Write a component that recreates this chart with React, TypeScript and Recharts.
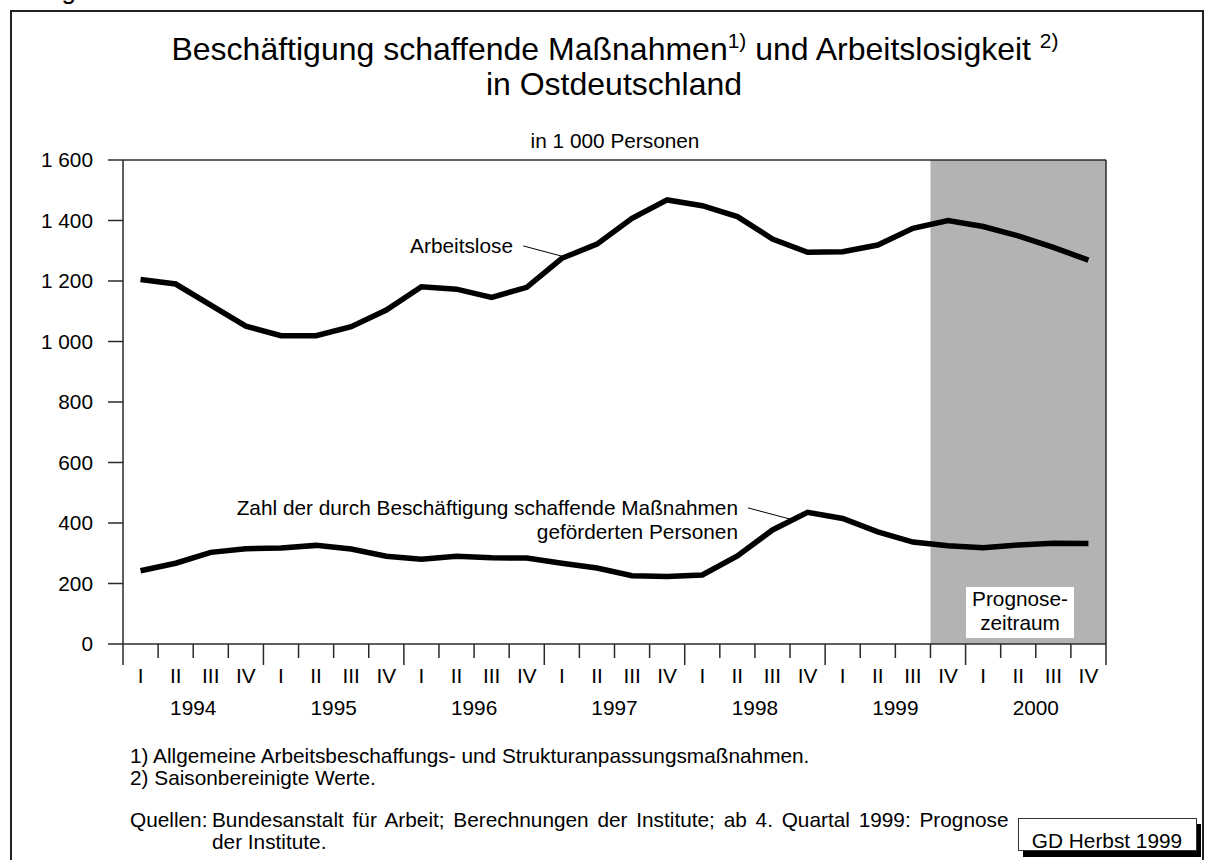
import { LineChart, Line, XAxis, YAxis, ReferenceArea, ReferenceLine } from 'recharts'

const quarterLabels = ['I', 'II', 'III', 'IV']
const years = ['1994', '1995', '1996', '1997', '1998', '1999', '2000']

// Arbeitslose (saisonbereinigt), Tsd. Personen, 1994 I - 2000 IV
const arbeitslose = [
  1205, 1190, 1120, 1051, 1019, 1019, 1049, 1104, 1181, 1173, 1146, 1179, 1275, 1322,
  1407, 1468, 1449, 1413, 1339, 1295, 1297, 1319, 1374, 1400, 1380, 1349, 1311, 1269,
]

// durch ABM/SAM geförderte Personen, Tsd.
const massnahmen = [
  242, 267, 303, 315, 317, 326, 314, 290, 280, 290, 285, 284, 267, 251,
  226, 223, 228, 291, 377, 435, 415, 371, 337, 325, 318, 327, 333, 332,
]

const yTicks = [0, 200, 400, 600, 800, 1000, 1200, 1400, 1600]

// first forecast quarter (1999 IV) index
const forecastStart = 23

const data = arbeitslose.map((v, i) => ({ i, arbeitslose: v, massnahmen: massnahmen[i] }))

// quarter boundaries + quarter centres
const xTicks: number[] = []
for (let k = 0; k < arbeitslose.length; k++) xTicks.push(k - 0.5, k)
xTicks.push(arbeitslose.length - 0.5)

// leader lines of the in-chart labels (data coordinates)
const leaderArbeitslose = [{ x: 10.9, y: 1316 }, { x: 12.1, y: 1279 }]
const leaderMassnahmen = [{ x: 17.3, y: 450 }, { x: 18.5, y: 413 }]

const FONT = '"Liberation Sans", Arial, Helvetica, sans-serif'
const FS = 20.8
const AXIS = '#2a2a2a'

const fmt = (v: number) =>
  v >= 1000 ? `${Math.floor(v / 1000)} ${String(v % 1000).padStart(3, '0')}` : String(v)

const LeftTick = ({ x, y, payload }: any) => (
  <text x={x - 15} y={y} dy="0.36em" textAnchor="end" fontSize={FS} fontFamily={FONT} fill="#000">
    {fmt(payload.value)}
  </text>
)

const RightTick = ({ x, y, payload }: any) => (
  <text x={x + 67} y={y} dy="0.36em" textAnchor="end" fontSize={FS} fontFamily={FONT} fill="#000">
    {fmt(payload.value)}
  </text>
)

const QuarterTick = ({ x, y, payload }: any) => {
  const v: number = payload.value
  if (Number.isInteger(v)) {
    return (
      <text x={x} y={y + 39} textAnchor="middle" fontSize={FS} fontFamily={FONT} fill="#000">
        {quarterLabels[v % 4]}
      </text>
    )
  }
  const yearEdge = (v + 0.5) % 4 === 0
  const yearMid = (v - 1.5) % 4 === 0
  return (
    <g>
      <line x1={x} x2={x} y1={y} y2={y + (yearEdge ? 21 : 14)} stroke={AXIS} strokeWidth={1.5} />
      {yearMid && (
        <text x={x} y={y + 71} textAnchor="middle" fontSize={FS} fontFamily={FONT} fill="#000">
          {years[(v - 1.5) / 4]}
        </text>
      )}
    </g>
  )
}

export default function App() {
  const txt = { fontFamily: FONT, fontSize: FS, fill: '#000' }
  return (
    <div
      style={{
        position: 'absolute', left: 0, top: 0, width: 1205, height: 860,
        background: '#fff', overflow: 'hidden',
      }}
    >
      <LineChart width={1205} height={860} data={data} margin={{ top: 160, right: 39, bottom: 136, left: 63 }}>
        <XAxis
          type="number"
          dataKey="i"
          domain={[-0.5, arbeitslose.length - 0.5]}
          ticks={xTicks}
          interval={0}
          height={80}
          tickSize={0}
          tickMargin={0}
          tickLine={false}
          axisLine={{ stroke: AXIS, strokeWidth: 1.5 }}
          tick={(p: any) => <QuarterTick {...p} />}
        />
        <YAxis
          yAxisId="left"
          width={60}
          domain={[0, 1600]}
          ticks={yTicks}
          interval={0}
          tickSize={15}
          tickMargin={0}
          tickLine={{ stroke: AXIS, strokeWidth: 1.5 }}
          axisLine={{ stroke: AXIS, strokeWidth: 1.5 }}
          tick={(p: any) => <LeftTick {...p} />}
        />
        <YAxis
          yAxisId="right"
          orientation="right"
          width={60}
          domain={[0, 1600]}
          ticks={yTicks}
          interval={0}
          tickSize={15}
          tickMargin={0}
          tickLine={{ stroke: AXIS, strokeWidth: 1.5 }}
          axisLine={{ stroke: AXIS, strokeWidth: 1.5 }}
          tick={(p: any) => <RightTick {...p} />}
        />
        <ReferenceArea
          yAxisId="left"
          x1={forecastStart - 0.5}
          x2={arbeitslose.length - 0.5}
          y1={0}
          y2={1600}
          fill="#b3b3b3"
          fillOpacity={1}
          stroke="none"
        />
        <ReferenceLine yAxisId="left" y={1600} stroke={AXIS} strokeWidth={1.5} />
        <ReferenceLine yAxisId="left" segment={leaderArbeitslose} stroke="#000" strokeWidth={1} />
        <ReferenceLine yAxisId="left" segment={leaderMassnahmen} stroke="#000" strokeWidth={1} />
        <Line
          yAxisId="left"
          type="linear"
          dataKey="arbeitslose"
          stroke="#000"
          strokeWidth={5.5}
          dot={false}
          isAnimationActive={false}
        />
        <Line
          yAxisId="left"
          type="linear"
          dataKey="massnahmen"
          stroke="#000"
          strokeWidth={5.5}
          dot={false}
          isAnimationActive={false}
        />
      </LineChart>

      <svg
        width={1205}
        height={860}
        style={{ position: 'absolute', left: 0, top: 0, pointerEvents: 'none' }}
      >
        {/* only the descender of this caption is inside the picture */}
        <text x={76} y={-1} textAnchor="end" fontFamily={FONT} fontSize={26} fill="#000">Abbildung</text>
        <rect x={11} y={11} width={1192} height={900} fill="none" stroke="#222" strokeWidth={2} />

        <text x={615} y={60} textAnchor="middle" fontFamily={FONT} fontSize={32} fill="#000">
          Beschäftigung schaffende Maßnahmen
          <tspan fontSize={21} dy={-12}>1)</tspan>
          <tspan dy={12}> und Arbeitslosigkeit </tspan>
          <tspan fontSize={21} dy={-12}>2)</tspan>
        </text>
        <text x={614} y={95} textAnchor="middle" fontFamily={FONT} fontSize={32} fill="#000">
          in Ostdeutschland
        </text>
        <text x={615} y={148} textAnchor="middle" {...txt}>in 1 000 Personen</text>

        <text x={513} y={253} textAnchor="end" {...txt}>Arbeitslose</text>
        <text x={738} y={515} textAnchor="end" {...txt}>Zahl der durch Beschäftigung schaffende Maßnahmen</text>
        <text x={738} y={539} textAnchor="end" {...txt}>geförderten Personen</text>

        <rect x={966} y={587} width={108} height={51} fill="#fff" />
        <text x={1020} y={606} textAnchor="middle" {...txt}>Prognose-</text>
        <text x={1020} y={630} textAnchor="middle" {...txt}>zeitraum</text>

        <text x={130} y={763} {...txt}>1) Allgemeine Arbeitsbeschaffungs- und Strukturanpassungsmaßnahmen.</text>
        <text x={130} y={785} {...txt}>2) Saisonbereinigte Werte.</text>
        <text x={130} y={827} {...txt}>Quellen:</text>
        <text x={212} y={827} {...txt} style={{ wordSpacing: 3 }}>
          Bundesanstalt für Arbeit; Berechnungen der Institute; ab 4. Quartal 1999: Prognose
        </text>
        <text x={212} y={849} {...txt}>der Institute.</text>

        <rect x={1023} y={824} width={178} height={33} fill="#000" />
        <rect x={1018.5} y={818.5} width={178} height={32} fill="#fff" stroke="#333" strokeWidth={1} />
        <text x={1107} y={841} dy="0.35em" textAnchor="middle" {...txt}>GD Herbst 1999</text>
      </svg>
    </div>
  )
}
